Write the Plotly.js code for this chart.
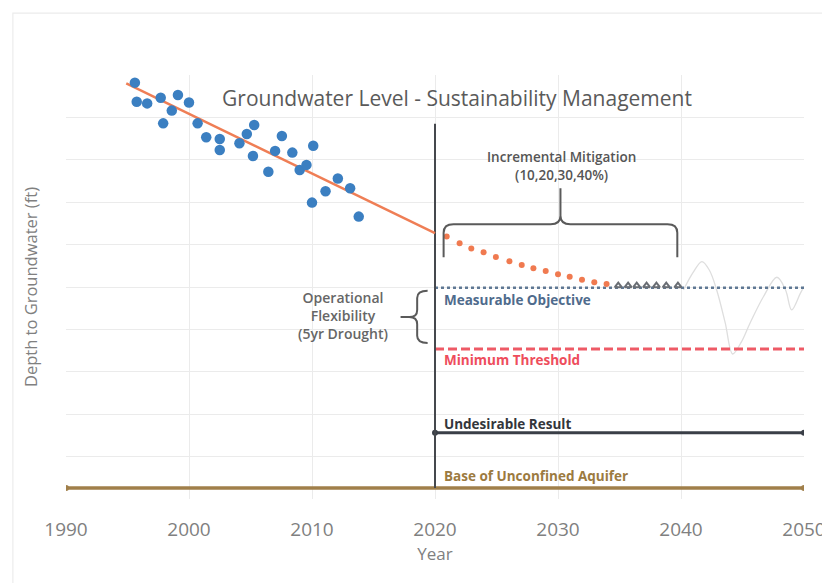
<!DOCTYPE html>
<html>
<head>
<meta charset="utf-8">
<script src="https://cdn.plot.ly/plotly-3.0.1.min.js"></script>
<style>
html,body{margin:0;padding:0;background:#fff;}
#chart{width:822px;height:583px;}
</style>
</head>
<body>
<div id="chart"></div>
<script>
// Observed groundwater depths (scatter)
const obsYear = [1995.6, 1995.75, 1996.6, 1997.7, 1999.1, 2000.0, 1998.6, 1997.9, 2000.7, 2001.4,
                 2002.5, 2002.5, 2004.1, 2004.7, 2005.3, 2005.2, 2006.45, 2007.0, 2007.55, 2008.4,
                 2009.0, 2009.55, 2010.1, 2010.0, 2011.1, 2012.1, 2013.1, 2013.8];
const obsDepth = [1.8, 6.3, 6.7, 5.35, 4.7, 6.5, 8.4, 11.4, 11.4, 14.7,
                  15.1, 17.7, 16.1, 13.9, 11.8, 19.1, 22.8, 17.9, 14.4, 18.3,
                  22.4, 21.2, 16.7, 30.1, 27.4, 24.4, 26.7, 33.4];

// Historical trend
const trendYear = [1994.9, 2020];
const trendDepth = [2.0, 37.3];

// Projected recovery with incremental mitigation
const projYear = [2020.95, 2022.0, 2022.95, 2023.95, 2024.95, 2026.05, 2027.05, 2028.0, 2029.0, 2030.0, 2030.95, 2031.95, 2032.95, 2033.95];
const projDepth = [38.1, 39.7, 40.9, 41.8, 42.9, 43.9, 44.8, 45.6, 46.2, 47.0, 47.6, 48.3, 48.9, 49.3];

// Transition markers near measurable objective
const transYear = [2034.9, 2035.7, 2036.4, 2037.2, 2038.0, 2038.8, 2039.75];
const transDepth = [49.7, 49.7, 49.7, 49.7, 49.7, 49.7, 49.7];

// Drought fluctuation
const droughtYear = [2040.2, 2041.0, 2041.7, 2042.3, 2042.9, 2043.6, 2044.2, 2044.9, 2045.6, 2046.7, 2047.8, 2048.5, 2049.0, 2049.7, 2050.0];
const droughtDepth = [50.7, 46.5, 44.0, 46.0, 50.7, 58.5, 65.8, 63.0, 58.6, 52.3, 47.7, 50.7, 55.4, 51.5, 49.9];

// Management levels
const levelYear = [2020, 2050];
const measurableObjective = [50.2, 50.2];
const minimumThreshold = [64.6, 64.6];
const undesirableResult = [84.4, 84.4];
const baseYear = [1990, 2050];
const baseAquifer = [97.4, 97.4];
const nowYear = [2020, 2020];
const nowDepth = [11.5, 97.4];

const xTicks = [1990, 2000, 2010, 2020, 2030, 2040, 2050];

const FONT = 'Open Sans, Lato, sans-serif';

const traces = [
  {x: baseYear, y: baseAquifer, mode: 'lines+markers', line: {color: '#a07f4a', width: 3.5},
   marker: {color: '#a07f4a', size: 6}, hoverinfo: 'skip'},
  {x: droughtYear, y: droughtDepth, mode: 'lines', line: {color: '#dedede', width: 1.3, shape: 'spline'}, hoverinfo: 'skip'},
  {x: levelYear, y: undesirableResult, mode: 'lines+markers', line: {color: '#3a3f47', width: 3},
   marker: {color: '#3a3f47', size: 6}, hoverinfo: 'skip'},
  {x: levelYear, y: minimumThreshold, mode: 'lines', line: {color: '#ee5a66', width: 3, dash: '9px,4px'}, hoverinfo: 'skip'},
  {x: levelYear, y: measurableObjective, mode: 'lines', line: {color: '#5f7894', width: 2.5, dash: 'dot'}, hoverinfo: 'skip'},
  {x: nowYear, y: nowDepth, mode: 'lines', line: {color: '#45484d', width: 2}, hoverinfo: 'skip'},
  {x: trendYear, y: trendDepth, mode: 'lines', line: {color: '#ef7e55', width: 2.5}, hoverinfo: 'skip'},
  {x: projYear, y: projDepth, mode: 'markers', marker: {color: '#f07a50', size: 6}, hoverinfo: 'skip'},
  {x: transYear, y: transDepth, mode: 'markers', marker: {color: '#6a6e74', size: 6, symbol: 'triangle-up-open', line: {width: 2}}, hoverinfo: 'skip'},
  {x: obsYear, y: obsDepth, mode: 'markers', marker: {color: '#3b7fc1', size: 10.5}, hoverinfo: 'skip'}
];

const braceColor = '#5a5a5a';
const shapes = [
  {type: 'rect', xref: 'paper', yref: 'paper', x0: -0.072, x1: 1.04, y0: -0.25, y1: 1.146,
   line: {color: '#ececec', width: 1.2}, layer: 'below'},
  {type: 'path', xref: 'x', yref: 'y', line: {color: braceColor, width: 2},
   path: 'M 2020.7,43 L 2020.7,37.2 Q 2020.7,35.2 2021.5,35.2 L 2029.4,35.2 Q 2030.2,35.2 2030.2,33.2 L 2030.2,26.7 ' +
         'M 2030.2,33.2 Q 2030.2,35.2 2031.0,35.2 L 2038.9,35.2 Q 2039.7,35.2 2039.7,37.2 L 2039.7,43'},
  {type: 'path', xref: 'x', yref: 'y', line: {color: braceColor, width: 2},
   path: 'M 2019.4,50.9 Q 2018.55,50.9 2018.55,52.6 L 2018.55,55.4 Q 2018.55,57.1 2017.9,57.1 L 2017.2,57.1 ' +
         'M 2017.9,57.1 Q 2018.55,57.1 2018.55,58.8 L 2018.55,61.5 Q 2018.55,63.2 2019.4,63.2'}
];

const ann = (text, x, y, color, xanchor, size, extra) => Object.assign({
  text: text, x: x, y: y, xref: 'x', yref: 'y', showarrow: false, xanchor: xanchor, yanchor: 'middle',
  font: {family: FONT, size: size, color: color, weight: 700}
}, extra || {});

const annotations = [
  ann('Incremental Mitigation<br>(10,20,30,40%)', 2030.3, 21.5, '#555555', 'center', 13.5, {align: 'center', font: {family: FONT, size: 13.5, color: '#555555', weight: 600}}),
  ann('Operational<br>Flexibility<br>(5yr Drought)', 2012.5, 56.8, '#666666', 'center', 14, {align: 'center', font: {family: FONT, size: 14, color: '#666666', weight: 600}}),
  ann('Measurable Objective', 2020.55, 53.1, '#4f6b8c', 'left', 13.5),
  ann('Minimum Threshold', 2020.55, 67.3, '#ee4d5c', 'left', 13.5),
  ann('Undesirable Result', 2020.55, 82.2, '#33363b', 'left', 13.5),
  ann('Base of Unconfined Aquifer', 2020.55, 94.6, '#9c7a40', 'left', 13.5)
];

const layout = {
  width: 822, height: 583,
  margin: {l: 66, r: 18, t: 75, b: 84},
  paper_bgcolor: '#ffffff', plot_bgcolor: '#ffffff',
  showlegend: false,
  title: {text: 'Groundwater Level - Sustainability Management', x: 0.556, xanchor: 'center',
          y: 0.83, yanchor: 'middle', yref: 'container',
          font: {family: FONT, size: 21, color: '#5a5a5a'}},
  xaxis: {range: [1990, 2050], tickvals: xTicks, ticktext: xTicks.map(String),
          showgrid: true, gridcolor: '#ebebeb', gridwidth: 1, zeroline: false, showline: false,
          ticks: '', ticklabelstandoff: 17, ticklabeloverflow: 'allow',
          tickfont: {family: FONT, size: 19, color: '#808080'},
          title: {text: 'Year', standoff: 6, font: {family: FONT, size: 17, color: '#808080'}}},
  yaxis: {range: [100, 0], dtick: 10, showgrid: true, gridcolor: '#ebebeb', gridwidth: 1,
          zeroline: false, showline: false, showticklabels: false, ticks: '',
          title: {text: 'Depth to Groundwater (ft)', standoff: 23, font: {family: FONT, size: 16.5, color: '#808080'}}},
  shapes: shapes,
  annotations: annotations
};

Plotly.newPlot('chart', traces, layout, {displayModeBar: false, staticPlot: true});
</script>
</body>
</html>
